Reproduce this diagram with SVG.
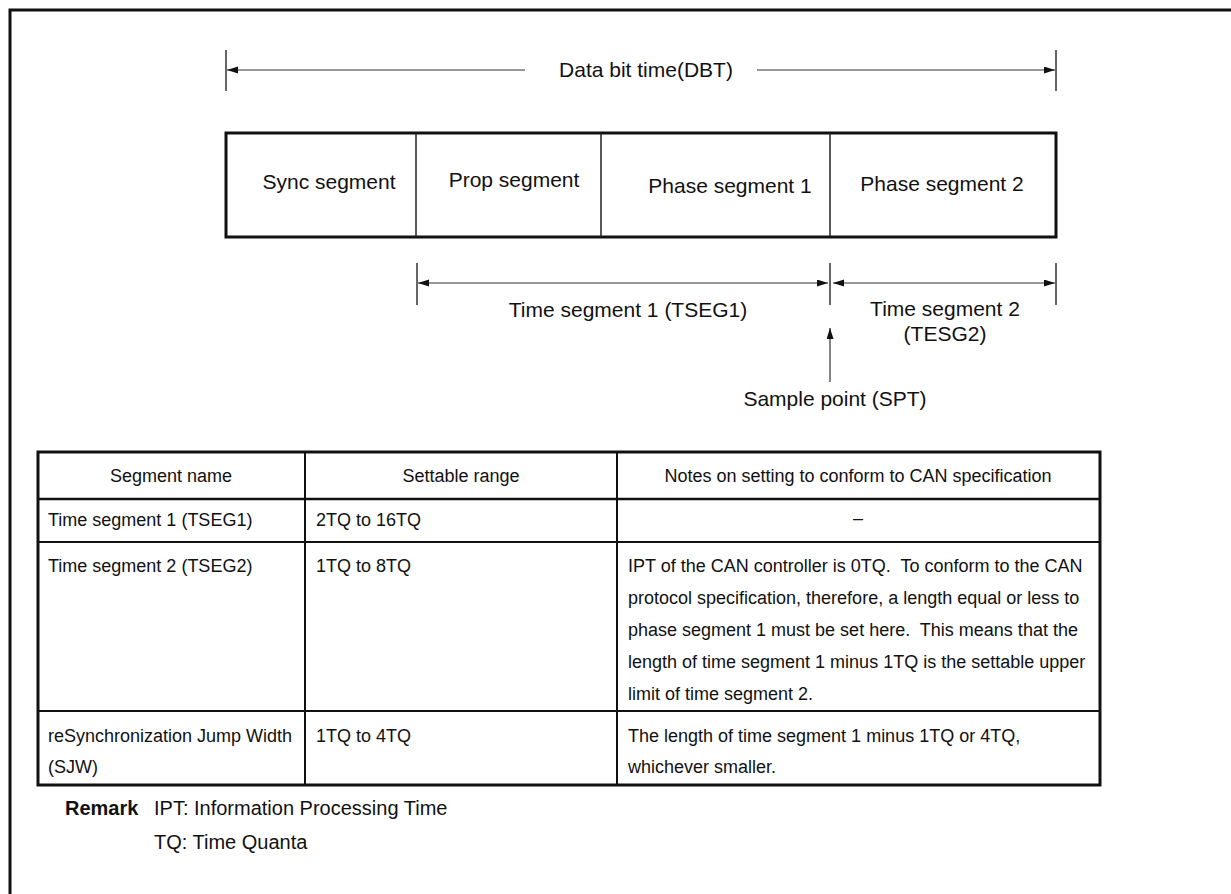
<svg xmlns="http://www.w3.org/2000/svg" width="1231" height="894" viewBox="0 0 1231 894">
<style>
text{font-family:"Liberation Sans",Arial,sans-serif;font-size:18px;fill:#111}
.lg{font-size:21px}
.rm{font-size:20px}
.c{text-anchor:middle}
.b{font-weight:bold}
.dim{stroke:#333;stroke-width:1.2;fill:none}
.tick{stroke:#333;stroke-width:1.5}
.thick{stroke:#111;stroke-width:3;fill:none}
.thin{stroke:#222;stroke-width:1.5;fill:none}
</style>
<defs>
<marker id="ah" markerUnits="userSpaceOnUse" markerWidth="12" markerHeight="8" refX="11" refY="3.5" orient="auto-start-reverse">
<path d="M0,0 L11,3.5 L0,7 z" fill="#111"/>
</marker>
</defs>
<rect width="1231" height="894" fill="#fff"/>
<path class="thick" d="M10,894 V10 H1231"/>

<g id="dbt">
<line class="tick" x1="226" y1="50" x2="226" y2="91"/>
<line class="tick" x1="1056" y1="50" x2="1056" y2="91"/>
<text class="c lg" x="646" y="77">Data bit time(DBT)</text>
</g>

<g id="bitbox">
<rect x="226" y="133" width="830" height="104" fill="none" stroke="#111" stroke-width="3"/>
<line class="thin" x1="416" y1="133" x2="416" y2="237"/>
<line class="thin" x1="601" y1="133" x2="601" y2="237"/>
<line class="thin" x1="830" y1="133" x2="830" y2="237"/>
</g>
<g id="sync"><text class="c lg" x="329" y="189">Sync segment</text></g>
<g id="prop"><text class="c lg" x="514" y="187">Prop segment</text></g>
<g id="phase1"><text class="c lg" x="730" y="193">Phase segment 1</text></g>
<g id="phase2"><text class="c lg" x="942" y="191">Phase segment 2</text></g>

<g id="tseg">
<line class="tick" x1="417" y1="263" x2="417" y2="305"/>
<line class="tick" x1="830" y1="263" x2="830" y2="305"/>
<line class="tick" x1="1056" y1="263" x2="1056" y2="305"/>
<text class="c lg" x="628" y="317">Time segment 1 (TSEG1)</text>
<text class="c lg" x="945" y="316">Time segment 2</text>
<text class="c lg" x="945" y="341">(TESG2)</text>
</g>

<g id="spt">
<text class="c lg" x="835" y="406">Sample point (SPT)</text>
</g>

<g id="connectors">
<line class="dim" x1="227" y1="70" x2="525" y2="70" marker-start="url(#ah)"/>
<line class="dim" x1="757" y1="70" x2="1055" y2="70" marker-end="url(#ah)"/>
<line class="dim" x1="418" y1="283" x2="828" y2="283" marker-start="url(#ah)" marker-end="url(#ah)"/>
<line class="dim" x1="833" y1="283" x2="1055" y2="283" marker-start="url(#ah)" marker-end="url(#ah)"/>
<line class="dim" x1="830" y1="382" x2="830" y2="328" marker-end="url(#ah)"/>
</g>

<g id="table">
<rect x="38" y="452" width="1062" height="333" fill="none" stroke="#111" stroke-width="3"/>
<line stroke="#111" stroke-width="2.5" x1="38" y1="499" x2="1100" y2="499"/>
<line stroke="#111" stroke-width="2" x1="38" y1="542" x2="1100" y2="542"/>
<line stroke="#111" stroke-width="2" x1="38" y1="711" x2="1100" y2="711"/>
<line stroke="#111" stroke-width="2" x1="305" y1="452" x2="305" y2="785"/>
<line stroke="#111" stroke-width="2" x1="617" y1="452" x2="617" y2="785"/>
<text class="c" x="171" y="482">Segment name</text>
<text class="c" x="461" y="482">Settable range</text>
<text class="c" x="858" y="482">Notes on setting to conform to CAN specification</text>
<text x="48" y="526">Time segment 1 (TSEG1)</text>
<text x="316" y="526">2TQ to 16TQ</text>
<text class="c" x="858" y="524">–</text>
<text x="48" y="572">Time segment 2 (TSEG2)</text>
<text x="316" y="572">1TQ to 8TQ</text>
<text x="628" y="572" xml:space="preserve">IPT of the CAN controller is 0TQ.  To conform to the CAN</text>
<text x="628" y="604">protocol specification, therefore, a length equal or less to</text>
<text x="628" y="636" xml:space="preserve">phase segment 1 must be set here.  This means that the</text>
<text x="628" y="668">length of time segment 1 minus 1TQ is the settable upper</text>
<text x="628" y="700">limit of time segment 2.</text>
<text x="48" y="742">reSynchronization Jump Width</text>
<text x="48" y="773">(SJW)</text>
<text x="316" y="742">1TQ to 4TQ</text>
<text x="628" y="742">The length of time segment 1 minus 1TQ or 4TQ,</text>
<text x="628" y="773">whichever smaller.</text>
</g>

<g id="remark">
<text class="b rm" x="65" y="815">Remark</text>
<text class="rm" x="154" y="815">IPT: Information Processing Time</text>
<text class="rm" x="154" y="849">TQ: Time Quanta</text>
</g>
</svg>
